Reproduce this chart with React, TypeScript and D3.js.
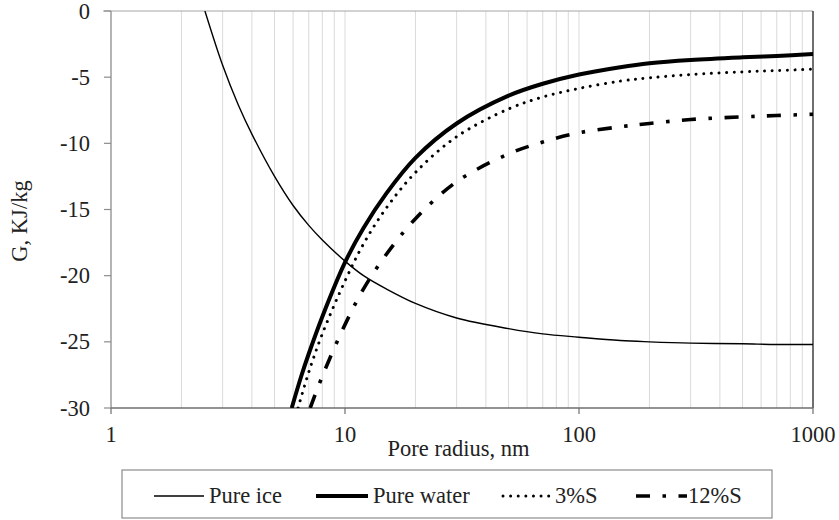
import React from "react";
import * as d3 from "d3";

// Pore radius (nm) and Gibbs energy G (kJ/kg) for each series
const iceR = [2.52, 3, 3.5, 4, 5, 6, 7, 8, 10, 12, 15, 20, 30, 50, 70, 100, 150, 200, 300, 500, 700, 1000];
const iceG = [0, -4.1, -7.1, -9.3, -12.5, -14.7, -16.2, -17.3, -18.9, -20.0, -21.0, -22.1, -23.2, -24.0, -24.4, -24.65, -24.9, -25.0, -25.1, -25.15, -25.2, -25.2];

const waterR = [5.92, 6.5, 7, 8, 10, 12, 15, 20, 30, 50, 70, 100, 150, 200, 300, 500, 700, 1000];
const waterG = [-30, -27.6, -25.9, -23.1, -19.0, -16.4, -13.8, -11.1, -8.5, -6.4, -5.5, -4.8, -4.25, -3.95, -3.7, -3.5, -3.4, -3.25];

const s3R = [6.3, 7, 8, 10, 12, 15, 20, 30, 50, 70, 100, 150, 200, 300, 500, 700, 1000];
const s3G = [-30, -27.3, -24.4, -20.4, -17.6, -14.9, -12.2, -9.5, -7.4, -6.5, -5.85, -5.3, -5.05, -4.8, -4.6, -4.5, -4.4];

const s12R = [7.1, 8, 10, 12, 15, 20, 30, 50, 70, 100, 150, 200, 300, 500, 700, 1000];
const s12G = [-30, -27.6, -23.7, -21.0, -18.4, -15.7, -12.9, -10.8, -9.9, -9.2, -8.75, -8.5, -8.2, -8.0, -7.9, -7.8];

const yTicks = [0, -5, -10, -15, -20, -25, -30];
const xTicks = [1, 10, 100, 1000];
const seriesNames = ["Pure ice", "Pure water", "3%S", "12%S"];

const W = 839;
const H = 520;
const left = 111;
const right = 813;
const top = 11;
const bottom = 408;
const FONT = "Liberation Serif";
const FS = 22.5;

const styles = [
  { width: 1.4, dash: undefined as string | undefined, cap: "butt" },
  { width: 4, dash: undefined as string | undefined, cap: "butt" },
  { width: 3, dash: "0.01 7.6", cap: "round" },
  { width: 3.6, dash: "14 12.5 3.5 12.5", cap: "butt" },
];

export default function App() {
  const x = d3.scaleLog().domain([1, 1000]).range([left, right]);
  const y = d3.scaleLinear().domain([-30, 0]).range([bottom, top]);

  const minorX: number[] = [];
  for (const dec of [1, 10, 100]) {
    for (let k = 2; k <= 9; k++) minorX.push(dec * k);
  }
  minorX.push(10, 100);

  const line = d3
    .line<[number, number]>()
    .x((d) => x(d[0]))
    .y((d) => y(d[1]))
    .curve(d3.curveCatmullRom.alpha(0.5));

  const series = [
    { r: iceR, g: iceG },
    { r: waterR, g: waterG },
    { r: s3R, g: s3G },
    { r: s12R, g: s12G },
  ];

  const legendItems = [
    { x1: 154, x2: 204, tx: 209 },
    { x1: 316, x2: 368, tx: 373 },
    { x1: 503, x2: 551, tx: 555 },
    { x1: 636, x2: 687, tx: 688 },
  ];
  const legendY = 496;
  const textStyle = { fontFamily: FONT, fontSize: FS };

  return (
    <svg
      width={W}
      height={H}
      style={{ position: "absolute", left: 0, top: 0, background: "#fff" }}
    >
      <defs>
        <clipPath id="plot">
          <rect x={left} y={top} width={right - left} height={bottom - top} />
        </clipPath>
      </defs>

      {/* vertical gridlines */}
      {minorX.map((v, i) => (
        <line
          key={"g" + i}
          x1={x(v)}
          x2={x(v)}
          y1={top}
          y2={bottom}
          stroke="#dadada"
          strokeWidth={1}
        />
      ))}
      {/* top border at G = 0 */}
      <line x1={103} x2={right} y1={y(0)} y2={y(0)} stroke="#a6a6a6" strokeWidth={1.2} />
      {/* right edge */}
      <line x1={right} x2={right} y1={top} y2={bottom} stroke="#333" strokeWidth={1.4} />

      {/* y axis */}
      <line x1={left} x2={left} y1={top} y2={bottom} stroke="#8c8c8c" strokeWidth={1.3} />
      {yTicks.map((t) => (
        <g key={"yt" + t}>
          <line x1={104} x2={left} y1={y(t)} y2={y(t)} stroke="#8c8c8c" strokeWidth={1.2} />
          <text
            x={90}
            y={y(t)}
            textAnchor="end"
            dominantBaseline="central"
            style={textStyle}
            fill="#222"
          >
            {t === 0 ? "0" : "-" + Math.abs(t)}
          </text>
        </g>
      ))}

      {/* x axis */}
      <line x1={left} x2={right} y1={bottom} y2={bottom} stroke="#6e6e6e" strokeWidth={1.3} />
      {xTicks.map((t) => (
        <g key={"xt" + t}>
          <line x1={x(t)} x2={x(t)} y1={bottom} y2={bottom + 6} stroke="#6e6e6e" strokeWidth={1.2} />
          <text x={x(t)} y={442} textAnchor="middle" style={textStyle} fill="#222">
            {t}
          </text>
        </g>
      ))}

      <text x={458.5} y={456} textAnchor="middle" style={textStyle} fill="#222">
        Pore radius, nm
      </text>
      <text
        transform={`translate(27, 221) rotate(-90)`}
        textAnchor="middle"
        style={textStyle}
        fill="#222"
      >
        G, KJ/kg
      </text>

      {/* curves */}
      <g clipPath="url(#plot)">
        {series.map((s, i) => (
          <path
            key={"s" + i}
            d={line(s.r.map((r, j) => [r, s.g[j]] as [number, number])) || ""}
            fill="none"
            stroke="#000"
            strokeWidth={styles[i].width}
            strokeDasharray={styles[i].dash}
            strokeLinecap={styles[i].cap as any}
          />
        ))}
      </g>

      {/* legend */}
      <rect x={122} y={470} width={650} height={48} fill="#fff" stroke="#8c8c8c" strokeWidth={1.2} />
      {legendItems.map((it, i) => (
        <g key={"l" + i}>
          <line
            x1={it.x1}
            x2={it.x2}
            y1={legendY}
            y2={legendY}
            stroke="#000"
            strokeWidth={styles[i].width}
            strokeDasharray={styles[i].dash}
            strokeLinecap={styles[i].cap as any}
          />
          <text x={it.tx} y={503} style={textStyle} fill="#222">
            {seriesNames[i]}
          </text>
        </g>
      ))}
    </svg>
  );
}
